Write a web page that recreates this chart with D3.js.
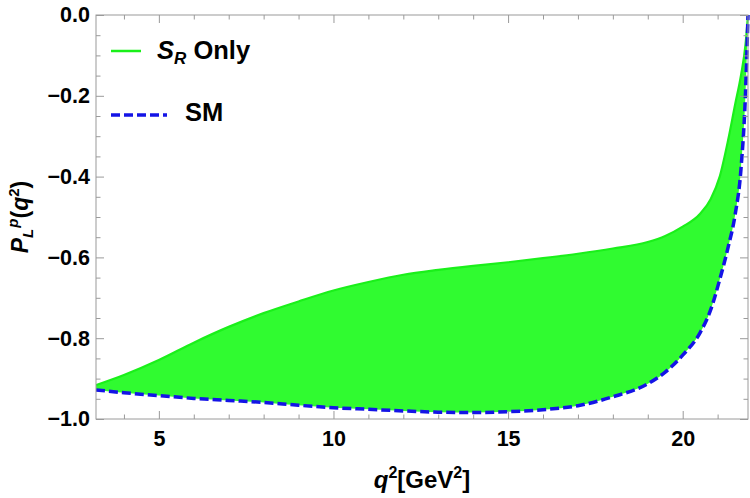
<!DOCTYPE html>
<html>
<head>
<meta charset="utf-8">
<script src="https://cdn.jsdelivr.net/npm/d3@7"></script>
<style>
  html, body { margin: 0; padding: 0; background: #fff; }
  svg { display: block; }
  text { font-family: "Liberation Sans", Arial, Helvetica, sans-serif; font-weight: bold; fill: #000; }
</style>
</head>
<body>
<svg id="chart" width="750" height="498"></svg>
<script>
// ---- data ----
const qValues      = [3.2, 4, 5, 6, 7, 8, 9, 10, 11, 12, 13, 14, 15, 16, 17, 18, 19, 19.5, 20, 20.5, 20.8, 21.06, 21.3, 21.5, 21.67, 21.8, 21.87];
const smValues     = [-0.928, -0.935, -0.942, -0.949, -0.954, -0.959, -0.966, -0.972, -0.976, -0.980, -0.983, -0.984, -0.982, -0.977, -0.967, -0.945, -0.913, -0.884, -0.842, -0.786, -0.730, -0.655, -0.575, -0.495, -0.380, -0.190, 0.0];
const srUpperValues= [-0.916, -0.891, -0.854, -0.811, -0.772, -0.738, -0.709, -0.682, -0.661, -0.643, -0.631, -0.621, -0.612, -0.602, -0.591, -0.578, -0.562, -0.547, -0.524, -0.492, -0.456, -0.400, -0.310, -0.222, -0.149, -0.072, 0.0];
const xMajorTicks  = [5, 10, 15, 20];
const xMinorTicks  = [4, 6, 7, 8, 9, 11, 12, 13, 14, 16, 17, 18, 19, 21];
const yMajorTicks  = [0, -0.2, -0.4, -0.6, -0.8, -1.0];
const yMinorTicks  = [-0.05, -0.1, -0.15, -0.25, -0.3, -0.35, -0.45, -0.5, -0.55, -0.65, -0.7, -0.75, -0.85, -0.9, -0.95];
const legendLabels = ["S_R Only", "SM"];
const xDomain = [3.2, 21.87];
const yDomain = [-1.0, 0.0];

// ---- layout ----
const L = 96, R = 748, T = 15, B = 419;
const svg = d3.select("#chart");
const x = d3.scaleLinear().domain(xDomain).range([L, R]);
const y = d3.scaleLinear().domain(yDomain).range([B, T]);

const rows = qValues.map((q, i) => ({ q, sm: smValues[i], up: srUpperValues[i] }));

svg.append("defs").append("clipPath").attr("id", "plotclip")
  .append("rect").attr("x", L).attr("y", T - 2).attr("width", R - L + 2).attr("height", B - T + 2);

const plot = svg.append("g").attr("clip-path", "url(#plotclip)");

// band
plot.append("path")
  .datum(rows)
  .attr("fill", "#30fb30")
  .attr("stroke", "none")
  .attr("d", d3.area().curve(d3.curveMonotoneX)
    .x(d => x(d.q)).y0(d => y(d.sm)).y1(d => y(d.up)));

// upper boundary line (S_R)
plot.append("path")
  .datum(rows)
  .attr("fill", "none")
  .attr("stroke", "#1af01a")
  .attr("stroke-width", 2.2)
  .attr("d", d3.line().curve(d3.curveMonotoneX).x(d => x(d.q)).y(d => y(d.up)));

// SM dashed
plot.append("path")
  .datum(rows)
  .attr("fill", "none")
  .attr("stroke", "#1414e6")
  .attr("stroke-width", 3.5)
  .attr("stroke-dasharray", "9,4")
  .attr("d", d3.line().curve(d3.curveMonotoneX).x(d => x(d.q)).y(d => y(d.sm)));

// ---- frame & ticks ----
const frameColor = "#9a9a9a";
function styleAxis(g) {
  g.select(".domain").remove();
  g.selectAll(".tick line").attr("stroke", frameColor).attr("stroke-width", 1);
  g.selectAll(".tick text").style("font-size", "21.5px").attr("fill", "#000");
}
const fmt = d3.format(".1f");

svg.append("g").attr("transform", `translate(0,${B})`)
  .call(d3.axisBottom(x).tickValues(xMajorTicks).tickSizeInner(-8).tickPadding(12).tickFormat(d3.format("d")))
  .call(styleAxis).call(g => g.selectAll(".tick text").attr("dy", "0.71em"));
svg.append("g").attr("transform", `translate(0,${B})`)
  .call(d3.axisBottom(x).tickValues(xMinorTicks).tickSizeInner(-4.5).tickFormat(""))
  .call(styleAxis);
svg.append("g").attr("transform", `translate(0,${T})`)
  .call(d3.axisTop(x).tickValues(xMajorTicks).tickSizeInner(-8).tickFormat(""))
  .call(styleAxis);
svg.append("g").attr("transform", `translate(0,${T})`)
  .call(d3.axisTop(x).tickValues(xMinorTicks).tickSizeInner(-4.5).tickFormat(""))
  .call(styleAxis);

svg.append("g").attr("transform", `translate(${L},0)`)
  .call(d3.axisLeft(y).tickValues(yMajorTicks).tickSizeInner(-8).tickPadding(6).tickFormat(fmt))
  .call(styleAxis);
svg.append("g").attr("transform", `translate(${L},0)`)
  .call(d3.axisLeft(y).tickValues(yMinorTicks).tickSizeInner(-4.5).tickFormat(""))
  .call(styleAxis);
svg.append("g").attr("transform", `translate(${R},0)`)
  .call(d3.axisRight(y).tickValues(yMajorTicks).tickSizeInner(-8).tickFormat(""))
  .call(styleAxis);
svg.append("g").attr("transform", `translate(${R},0)`)
  .call(d3.axisRight(y).tickValues(yMinorTicks).tickSizeInner(-4.5).tickFormat(""))
  .call(styleAxis);

svg.append("rect")
  .attr("x", L).attr("y", T).attr("width", R - L).attr("height", B - T)
  .attr("fill", "none").attr("stroke", frameColor).attr("stroke-width", 1);

// ---- axis labels ----
const xl = svg.append("text")
  .attr("x", (L + R) / 2).attr("y", 488)
  .attr("text-anchor", "middle")
  .style("font-size", "24px");
xl.append("tspan").attr("font-style", "italic").text("q");
xl.append("tspan").attr("dy", -10).style("font-size", "16px").text("2");
xl.append("tspan").attr("dy", 10).text("[GeV");
xl.append("tspan").attr("dy", -10).style("font-size", "16px").text("2");
xl.append("tspan").attr("dy", 10).text("]");

const yl = svg.append("text")
  .attr("transform", `translate(28,${(T + B) / 2}) rotate(-90)`)
  .attr("text-anchor", "middle")
  .style("font-size", "23px");
yl.append("tspan").attr("font-style", "italic").text("P");
yl.append("tspan").attr("font-style", "italic").attr("dy", 5).style("font-size", "15px").text("L");
yl.append("tspan").attr("font-style", "italic").attr("dy", -15).attr("dx", 1).style("font-size", "15px").text("p");
yl.append("tspan").attr("dy", 10).text("(");
yl.append("tspan").attr("font-style", "italic").text("q");
yl.append("tspan").attr("dy", -9).style("font-size", "15px").text("2");
yl.append("tspan").attr("dy", 9).text(")");

// ---- legend ----
const lg = svg.append("g");
lg.append("line").attr("x1", 111).attr("x2", 141).attr("y1", 51).attr("y2", 51)
  .attr("stroke", "#1af01a").attr("stroke-width", 2.5);
const t1 = lg.append("text").attr("x", 157).attr("y", 59).style("font-size", "25.5px");
const parts = legendLabels[0].split(/[_ ]/);
t1.append("tspan").attr("font-style", "italic").text(parts[0]);
t1.append("tspan").attr("font-style", "italic").attr("dy", 5).style("font-size", "17px").text(parts[1]);
t1.append("tspan").attr("dy", -5).text(" " + parts[2]);

lg.append("line").attr("x1", 111).attr("x2", 167).attr("y1", 115).attr("y2", 115)
  .attr("stroke", "#1414e6").attr("stroke-width", 3.5).attr("stroke-dasharray", "9,4");
lg.append("text").attr("x", 185).attr("y", 120.5).style("font-size", "25.5px").text(legendLabels[1]);
</script>
</body>
</html>
